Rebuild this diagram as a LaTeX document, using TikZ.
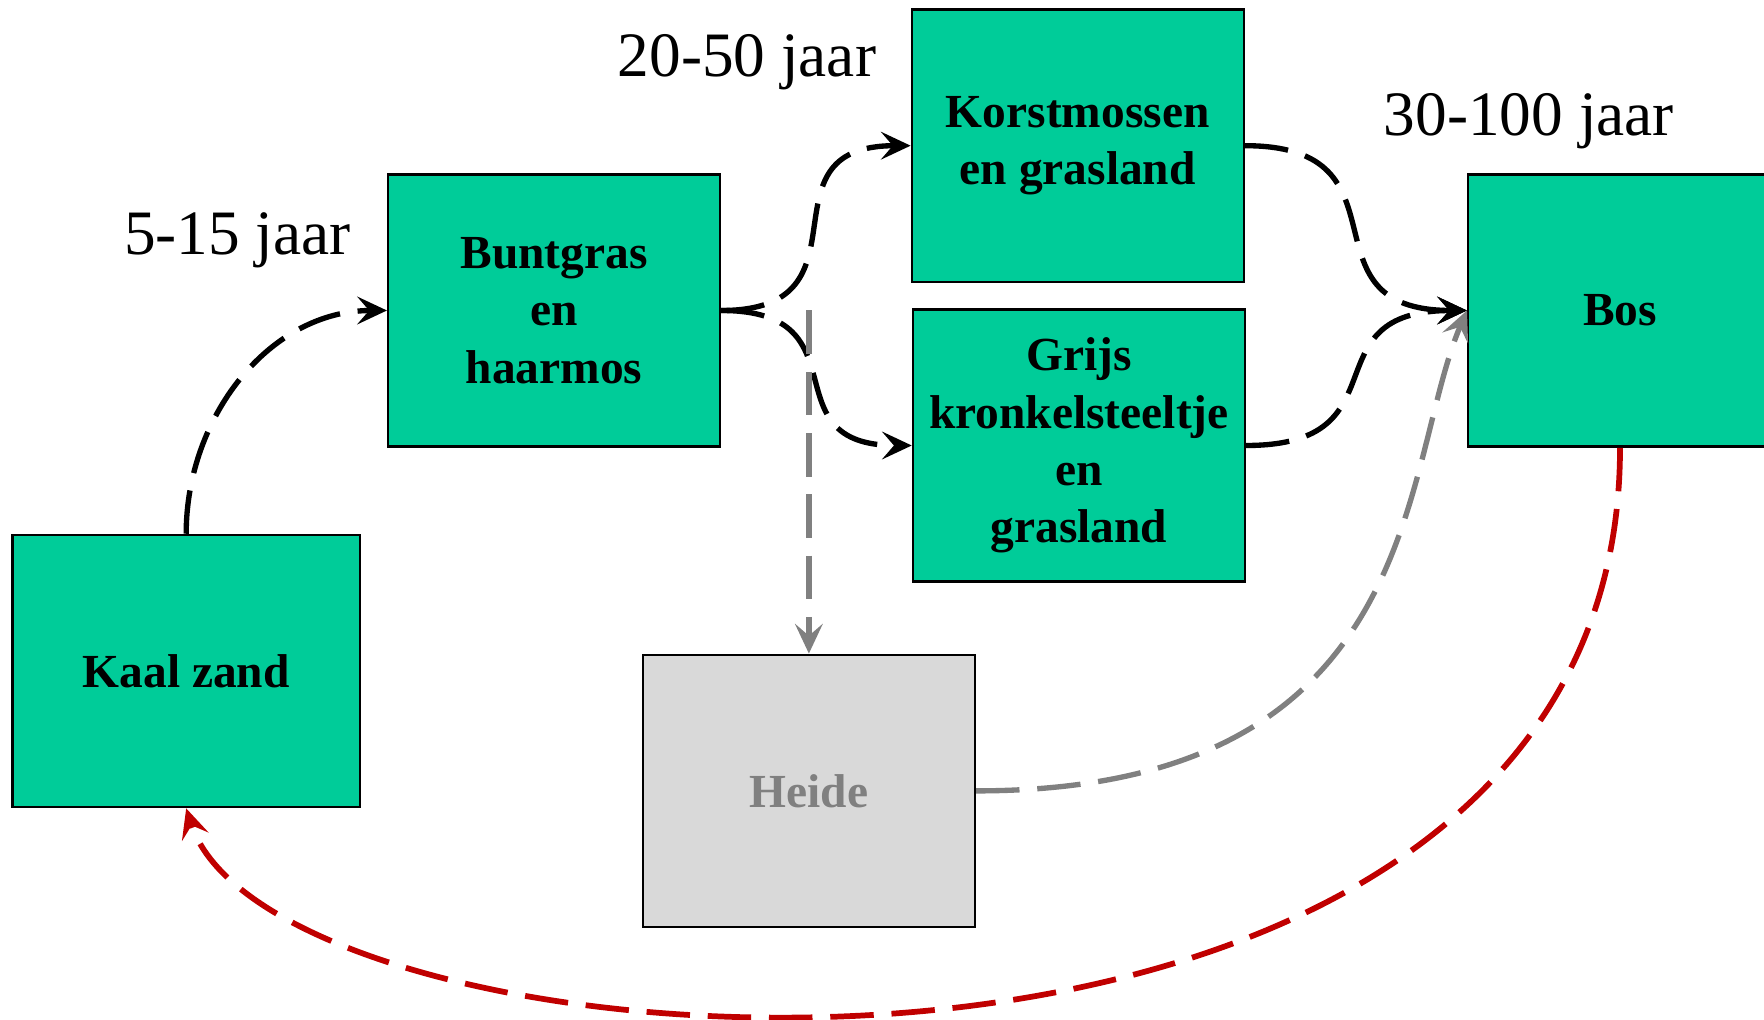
\documentclass[tikz,border=0pt]{standalone}
\usepackage{fontspec}
\setmainfont{Liberation Serif}
\usetikzlibrary{arrows.meta}
\definecolor{stagegreen}{RGB}{0,204,153}
\definecolor{heidefill}{RGB}{217,217,217}
\definecolor{heidegray}{RGB}{128,128,128}
\definecolor{resetred}{RGB}{192,0,0}

\begin{document}
\begin{tikzpicture}[
  stage/.style={rectangle,draw,line width=0.6pt,fill=stagegreen,minimum width=29.5mm,minimum height=24.2mm,align=center,inner sep=1pt,font=\fontsize{12}{14.5}\selectfont\bfseries},
  side stage/.style={stage,fill=heidefill,text=heidegray},
  period/.style={font=\fontsize{16}{19}\selectfont},
  succession/.style={line width=1.35pt,dash pattern=on 11pt off 4.5pt,-{Stealth[length=7.5pt,width=7pt,inset=3pt]}},
  side path/.style={succession,heidegray},
  reset path/.style={succession,resetred,line width=1.45pt}]

  \useasboundingbox (0,0) rectangle (15.68,9.06);

  \node[stage,minimum width=30.9mm] (kaal) at (1.655,3.095) {Kaal zand};
  \node[stage] (bunt)  at (4.925,6.30) {Buntgras\\en\\haarmos};
  \node[stage] (korst) at (9.58,7.765) {Korstmossen\\en grasland};
  \node[stage] (grijs) at (9.59,5.10)  {Grijs\\kronkelsteeltje\\en\\grasland};
  \node[side stage] (heide) at (7.19,2.03) {Heide};
  \node[stage,minimum width=27mm] (bos) at (14.40,6.30) {Bos};

  \node[period] (p1) at (2.11,6.92)  {5-15 jaar};
  \node[period] (p2) at (6.64,8.51)  {20-50 jaar};
  \node[period] (p3) at (13.59,7.98) {30-100 jaar};

  \draw[succession] (kaal.north) to[out=90,in=180] (bunt.west);
  \draw[succession] (bunt.east) to[out=0,in=180,looseness=1.6] (korst.west);
  \draw[succession] (bunt.east) to[out=0,in=180,looseness=1.6] (grijs.west);
  \draw[succession] (korst.east) to[out=0,in=180,looseness=1.6] (bos.west);
  \draw[succession] (grijs.east) to[out=0,in=180,looseness=1.6] (bos.west);

  \coordinate (split) at (bunt.east -| heide.north);
  \draw[side path] (split) -- (heide.north);
  \draw[side path] (heide.east) .. controls +(4.0,0) and +(-0.6,-1.4) .. (bos.west);

  \draw[reset path] (bos.south) .. controls +(0,-6.5) and +(0.8,-2.5) .. (kaal.south);
\end{tikzpicture}
\end{document}
